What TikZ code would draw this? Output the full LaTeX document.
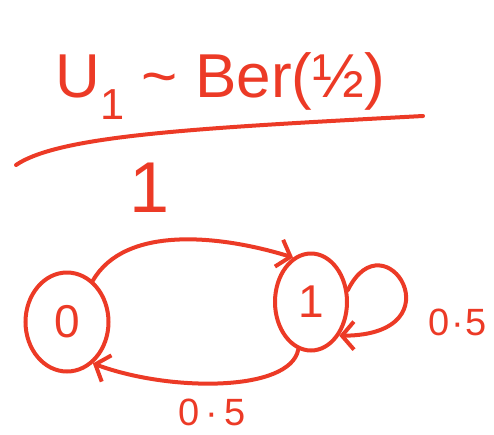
\documentclass[tikz,border=0pt]{standalone}
\usepackage{fontspec}
\setmainfont{Liberation Sans}
\usetikzlibrary{arrows.meta,positioning,shapes.geometric}
\definecolor{ink}{RGB}{236,58,38}
\tikzset{
 pen/.style={draw=ink, line width=4pt, line cap=round},
 flow/.style={pen, -{Straight Barb[length=12pt,width=28pt,line width=4pt]}},
 state/.style={pen, ellipse, inner sep=0pt, text=ink, font=\fontsize{46}{46}\selectfont},
 prob/.style={text=ink, inner sep=0pt, font=\fontsize{38}{38}\selectfont}
}

\begin{document}
\begin{tikzpicture}[x=1pt,y=-1pt]
\useasboundingbox (0,0) rectangle (494,434);

% fraction at the top
\node[text=ink, font=\fontsize{62}{62}\selectfont] (dist) at (220,86) {U\textsubscript{1} \textasciitilde{} Ber(½)};
\coordinate (barL) at (16,165);
\coordinate (barR) at (423,116);
\draw[pen] (barL) .. controls (60,135) and (200,128) .. (barR);
\node[text=ink, font=\fontsize{72}{72}\selectfont] (den) at (150,188) {1};

% the chain
\node[state, minimum width=83pt, minimum height=99pt] (s0) at (67,322) {0};
\node[state, minimum width=72pt, minimum height=97pt] (s1) at (311,302) {1};

\draw[flow] (s0.58) .. controls (125,225) and (220,235) .. (s1.112);
\draw[flow] (s1.-105) .. controls (290,392) and (170,392) .. (s0.-58);
\draw[flow] (s1.18) .. controls (385,215) and (460,335) .. (s1.-50);

\node[prob] (p10) at (212,412) {0\,·\,5};
\node[prob, anchor=west] (p11) at (428,322) {0\kern2pt·\kern2pt5};

\end{tikzpicture}
\end{document}
